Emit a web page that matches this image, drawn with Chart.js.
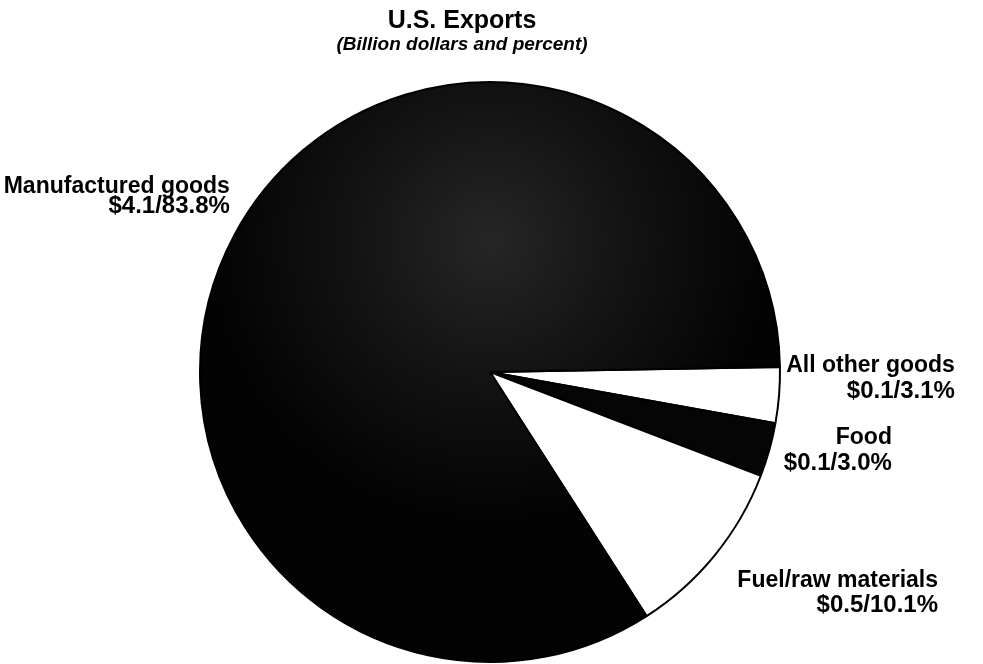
<!DOCTYPE html>
<html lang="en">
<head>
  <meta charset="UTF-8" />
  <title>U.S. Exports</title>
  <script src="https://cdn.jsdelivr.net/npm/chart.js"></script>
  <style>
    html, body { margin: 0; padding: 0; background: #fff; }
    #wrap { width: 983px; height: 664px; }
  </style>
</head>
<body>
  <div id="wrap"><canvas id="exportsChart"></canvas></div>

  <script>
    // slices, clockwise from "east"
    const categories = ['All other goods', 'Food', 'Fuel/raw materials', 'Manufactured goods'];
    const billions = [0.1, 0.1, 0.5, 4.1];
    const percents = [3.1, 3.0, 10.1, 83.8];
    const valueLabels = categories.map((c, i) => '$' + billions[i].toFixed(1) + '/' + percents[i].toFixed(1) + '%');

    // where each label sits, relative to the pie centre in radius units
    // (right edge of the text, first baseline) + gap to the second line
    const labelPlacement = [
      { dx: 1.603, dy: 0.0, gap: 26 },
      { dx: 1.386, dy: 0.248, gap: 26 },
      { dx: 1.545, dy: 0.741, gap: 25 },
      { dx: -0.897, dy: -0.617, gap: 20 }
    ];

    const LABEL_FONT = 'bold 23px "Liberation Sans", Arial, sans-serif';
    const VALUE_FONT = 'bold 24px "Liberation Sans", Arial, sans-serif';
    const sliceColors = ['#ffffff', '#050505', '#ffffff', null]; // null -> stippled dark fill

    function sliceFill(context) {
      const c = sliceColors[context.dataIndex];
      if (c) return c;
      const chart = context.chart;
      const area = chart.chartArea;
      if (!area) return '#050505';
      const cx = (area.left + area.right) / 2;
      const cy = (area.top + area.bottom) / 2;
      const r = (area.bottom - area.top) / 2;
      const g = chart.ctx.createRadialGradient(cx, cy - r * 0.45, 0, cx, cy - r * 0.45, r * 0.95);
      g.addColorStop(0, '#262626');
      g.addColorStop(0.5, '#131313');
      g.addColorStop(1, '#030303');
      return g;
    }

    const titles = {
      id: 'titles',
      afterDraw(chart) {
        const arc = chart.getDatasetMeta(0).data[0];
        const ctx = chart.ctx;
        const tx = arc.x - 28;
        ctx.save();
        ctx.fillStyle = '#000';
        ctx.textAlign = 'center';
        ctx.textBaseline = 'alphabetic';
        ctx.font = 'bold 25px "Liberation Sans", Arial, sans-serif';
        ctx.fillText('U.S. Exports', tx, 28);
        ctx.font = 'italic bold 19px "Liberation Sans", Arial, sans-serif';
        ctx.fillText('(Billion dollars and percent)', tx, 50);
        ctx.restore();
      }
    };

    const sliceLabels = {
      id: 'sliceLabels',
      afterDatasetsDraw(chart) {
        const ctx = chart.ctx;
        const arc = chart.getDatasetMeta(0).data[0];
        const R = arc.outerRadius;
        ctx.save();
        ctx.fillStyle = '#000';
        ctx.textAlign = 'right';
        ctx.textBaseline = 'alphabetic';
        categories.forEach((name, i) => {
          const p = labelPlacement[i];
          const lx = arc.x + p.dx * R;
          const ly = arc.y + p.dy * R;
          ctx.font = LABEL_FONT;
          ctx.fillText(name, lx, ly);
          ctx.font = VALUE_FONT;
          ctx.fillText(valueLabels[i], lx, ly + p.gap);
        });
        ctx.restore();
      }
    };

    new Chart(document.getElementById('exportsChart'), {
      type: 'pie',
      data: {
        labels: categories,
        datasets: [{
          data: percents,
          backgroundColor: sliceFill,
          borderColor: '#000',
          borderWidth: 2
        }]
      },
      options: {
        responsive: true,
        maintainAspectRatio: false,
        animation: false,
        devicePixelRatio: 1,
        rotation: 89,
        layout: { padding: { top: 81, bottom: 1, left: 0, right: 3 } },
        plugins: {
          legend: { display: false },
          title: { display: false },
          tooltip: { enabled: false }
        }
      },
      plugins: [titles, sliceLabels]
    });
  </script>
</body>
</html>
